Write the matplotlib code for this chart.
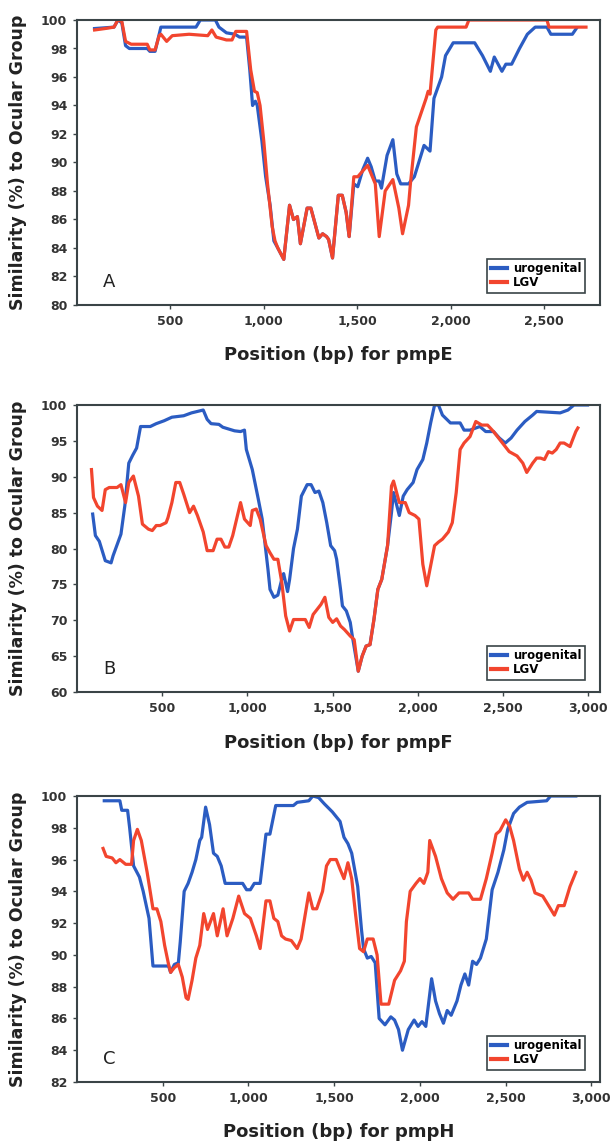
import matplotlib.pyplot as plt

# Panel A - pmpE
a_uro_x = [94, 198, 219, 240, 260, 280, 376, 390, 418, 440, 449, 637, 660, 741, 760, 800, 846, 870, 908, 925,
           940, 955, 965, 990, 1010, 1034, 1054, 1075, 1107, 1138, 1159, 1180, 1196, 1232, 1252, 1295, 1315, 1336, 1347, 1368,
           1399, 1420, 1441, 1457, 1482, 1503, 1530, 1556, 1575, 1597, 1618, 1630, 1660, 1691, 1712, 1733, 1775, 1806, 1858, 1890,
           1911, 1952, 1973, 2014, 2129, 2171, 2213, 2234, 2275, 2296, 2327, 2369, 2411, 2453, 2516, 2537, 2652, 2673]
a_uro_y = [99.4, 99.5, 100, 99.8, 98.2, 98.0, 98.0, 97.8, 97.8, 99.0, 99.5, 99.5, 100, 100, 99.5, 99.1, 99.0, 98.8, 98.8, 96.5,
           94.0, 94.3, 94.0, 91.5, 89.0, 87.0, 84.5, 84.0, 83.2, 87.0, 86.0, 86.2, 84.3, 86.8, 86.8, 84.7, 85.0, 84.8, 84.6, 83.3,
           87.7, 87.7, 86.5, 84.8, 88.5, 88.3, 89.5, 90.3, 89.7, 88.7, 88.7, 88.2, 90.5, 91.6, 89.2, 88.5, 88.5, 89.0, 91.2, 90.8,
           94.5, 96.0, 97.5, 98.4, 98.4, 97.5, 96.4, 97.4, 96.4, 96.9, 96.9, 98.0, 99.0, 99.5, 99.5, 99.0, 99.0, 99.4]
a_lgv_x = [94, 150, 198, 219, 240, 260, 290, 376, 390, 418, 440, 449, 480, 510, 600, 700, 722, 745, 800, 830,
           850, 908, 930, 950, 965, 980, 1000, 1020, 1045, 1060, 1075, 1107, 1138, 1159, 1180, 1196, 1232, 1252, 1295, 1315,
           1336, 1347, 1368, 1399, 1420, 1441, 1457, 1482, 1503, 1556, 1597, 1618, 1650, 1691, 1723, 1743, 1775, 1785, 1817, 1869,
           1880, 1890, 1921, 1931, 2083, 2098, 2516, 2527, 2725]
a_lgv_y = [99.3, 99.4, 99.5, 100, 99.9, 98.5, 98.3, 98.3, 97.9, 97.9, 98.9, 99.0, 98.5, 98.9, 99.0, 98.9, 99.3, 98.8, 98.6, 98.6,
           99.2, 99.2, 96.5, 95.0, 94.9, 94.0, 91.5, 88.5, 85.5, 84.5, 84.0, 83.2, 87.0, 86.0, 86.2, 84.3, 86.8, 86.8, 84.7, 85.0,
           84.8, 84.6, 83.3, 87.7, 87.7, 86.5, 84.8, 89.0, 89.0, 89.8, 88.5, 84.8, 88.0, 88.8, 86.8, 85.0, 87.0, 88.5, 92.5, 94.5,
           95.0, 94.8, 99.3, 99.5, 99.5, 100, 100, 99.5, 99.5]

# Panel B - pmpF
b_uro_x = [92, 108, 131, 166, 200, 212, 235, 258, 281, 304, 327, 350, 373, 430, 465, 511, 557, 626, 672, 741,
           764, 787, 833, 856, 925, 960, 983, 994, 1029, 1064, 1087, 1121, 1133, 1156, 1179, 1202, 1213, 1236, 1248, 1271,
           1294, 1317, 1351, 1374, 1397, 1420, 1443, 1466, 1489, 1512, 1524, 1547, 1558, 1581, 1604, 1616, 1651, 1674, 1697, 1720,
           1743, 1766, 1789, 1823, 1846, 1858, 1892, 1915, 1938, 1973, 1996, 2030, 2053, 2076, 2099, 2122, 2145, 2192, 2249, 2272,
           2307, 2365, 2399, 2445, 2479, 2514, 2548, 2583, 2629, 2675, 2698, 2836, 2882, 2917, 2997]
b_uro_y = [84.8, 81.8, 81.0, 78.3, 78.0, 79.0, 80.5, 82.0, 86.0, 91.9, 93.0, 94.0, 97.0, 97.0, 97.4, 97.8, 98.3, 98.5, 98.9, 99.3,
           98.0, 97.4, 97.3, 96.9, 96.4, 96.3, 96.5, 93.8, 91.0, 86.9, 84.1, 77.1, 74.3, 73.2, 73.5, 75.7, 76.5, 74.0, 75.7, 80.0,
           82.7, 87.3, 88.9, 88.9, 87.8, 88.0, 86.4, 83.6, 80.4, 79.7, 78.5, 74.3, 72.0, 71.3, 69.7, 67.8, 62.9, 65.0, 66.4, 66.6,
           70.1, 74.3, 75.7, 80.4, 85.0, 87.8, 84.6, 87.3, 88.2, 89.2, 91.0, 92.4, 94.7, 97.5, 100, 100, 98.6, 97.5, 97.5, 96.5,
           96.5, 97.0, 96.3, 96.3, 95.4, 94.7, 95.4, 96.5, 97.7, 98.6, 99.1, 98.9, 99.3, 100, 100]
b_lgv_x = [85, 97, 120, 147, 166, 189, 235, 258, 285, 304, 331, 361, 384, 419, 442, 465, 488, 523, 534, 557,
           580, 603, 626, 661, 684, 707, 741, 764, 799, 822, 845, 868, 891, 914, 937, 960, 983, 1017, 1029, 1052,
           1075, 1110, 1133, 1156, 1179, 1202, 1225, 1248, 1271, 1340, 1363, 1386, 1409, 1432, 1455, 1478, 1501, 1524, 1547, 1570,
           1604, 1627, 1651, 1674, 1697, 1720, 1743, 1766, 1789, 1823, 1846, 1858, 1892, 1927, 1950, 1984, 2007, 2030, 2053, 2076,
           2099, 2122, 2145, 2180, 2203, 2226, 2249, 2272, 2307, 2341, 2376, 2410, 2445, 2491, 2537, 2583, 2617, 2640, 2675, 2698,
           2721, 2744, 2767, 2790, 2813, 2836, 2859, 2894, 2905, 2928, 2940]
b_lgv_y = [91.0, 87.1, 85.9, 85.3, 88.2, 88.5, 88.5, 88.9, 86.4, 89.2, 90.1, 87.3, 83.4, 82.7, 82.5, 83.2, 83.2, 83.6, 84.3, 86.4,
           89.2, 89.2, 87.6, 85.0, 85.9, 84.6, 82.3, 79.7, 79.7, 81.3, 81.3, 80.2, 80.2, 81.8, 84.1, 86.4, 84.1, 83.2, 85.3, 85.5,
           84.1, 80.4, 79.4, 78.5, 78.5, 75.3, 70.6, 68.5, 70.1, 70.1, 69.0, 70.8, 71.5, 72.2, 73.2, 70.4, 69.7, 70.2, 69.2, 68.7,
           67.8, 67.3, 62.9, 65.0, 66.4, 66.6, 70.1, 74.3, 75.7, 80.4, 88.7, 89.4, 86.4, 86.4, 85.0, 84.6, 84.1, 77.8, 74.8, 77.6,
           80.4, 80.9, 81.3, 82.3, 83.6, 87.8, 93.8, 94.7, 95.6, 97.7, 97.2, 97.2, 96.3, 94.9, 93.5, 92.9, 91.9, 90.6, 91.9, 92.6,
           92.6, 92.4, 93.5, 93.3, 93.8, 94.7, 94.7, 94.2, 94.9, 96.3, 96.8]

# Panel C - pmpH
c_uro_x = [159, 250, 261, 295, 307, 330, 364, 386, 420, 443, 534, 546, 568, 591, 602, 625, 648, 671, 693, 716,
           727, 750, 773, 796, 818, 841, 864, 966, 989, 1011, 1034, 1068, 1102, 1125, 1159, 1262, 1284, 1352, 1375, 1409,
           1443, 1489, 1534, 1557, 1580, 1602, 1637, 1659, 1671, 1693, 1716, 1739, 1762, 1796, 1830, 1852, 1875, 1898, 1932, 1966,
           1989, 2012, 2034, 2068, 2091, 2114, 2137, 2159, 2182, 2216, 2239, 2262, 2284, 2307, 2330, 2353, 2387, 2421, 2455, 2489,
           2512, 2546, 2580, 2625, 2739, 2762, 2909]
c_uro_y = [99.7, 99.7, 99.1, 99.1, 98.0, 95.6, 94.9, 94.0, 92.3, 89.3, 89.3, 88.9, 89.4, 89.5, 90.8, 94.0, 94.5, 95.2, 96.0, 97.2,
           97.4, 99.3, 98.2, 96.4, 96.2, 95.6, 94.5, 94.5, 94.1, 94.1, 94.5, 94.5, 97.6, 97.6, 99.4, 99.4, 99.6, 99.7, 100, 99.9,
           99.5, 99.0, 98.4, 97.4, 97.0, 96.4, 94.3, 91.6, 90.4, 89.8, 89.9, 89.5, 86.0, 85.6, 86.1, 85.9, 85.3, 84.0, 85.3, 85.9,
           85.5, 85.8, 85.5, 88.5, 87.1, 86.3, 85.7, 86.5, 86.2, 87.1, 88.1, 88.8, 88.1, 89.6, 89.4, 89.8, 91.0, 94.1, 95.2, 96.6,
           97.9, 98.9, 99.3, 99.6, 99.7, 100, 100]
c_lgv_x = [152, 170, 205, 227, 250, 284, 318, 330, 352, 375, 409, 443, 466, 489, 511, 534, 546, 568, 591, 614,
           636, 648, 671, 693, 716, 739, 761, 796, 818, 852, 875, 909, 943, 977, 1011, 1046, 1068, 1102, 1125, 1148,
           1171, 1193, 1216, 1250, 1284, 1307, 1352, 1375, 1398, 1432, 1455, 1477, 1512, 1534, 1557, 1580, 1602, 1625, 1648, 1671,
           1693, 1727, 1750, 1773, 1818, 1852, 1887, 1909, 1921, 1943, 1977, 2000, 2023, 2046, 2057, 2091, 2125, 2159, 2193, 2228,
           2284, 2307, 2353, 2387, 2421, 2444, 2466, 2500, 2523, 2546, 2580, 2603, 2625, 2648, 2671, 2716, 2739, 2784, 2807, 2841,
           2875, 2909]
c_lgv_y = [96.7, 96.2, 96.1, 95.8, 96.0, 95.7, 95.7, 97.2, 97.9, 97.2, 95.2, 92.9, 92.9, 92.1, 90.6, 89.4, 88.9, 89.2, 89.4, 88.6,
           87.3, 87.2, 88.4, 89.8, 90.6, 92.6, 91.6, 92.6, 91.2, 92.9, 91.2, 92.3, 93.7, 92.6, 92.3, 91.2, 90.4, 93.4, 93.4, 92.3,
           92.1, 91.2, 91.0, 90.9, 90.4, 91.0, 93.9, 92.9, 92.9, 94.0, 95.6, 96.0, 96.0, 95.4, 94.8, 95.8, 94.8, 92.5, 90.4, 90.2,
           91.0, 91.0, 90.0, 86.9, 86.9, 88.4, 89.0, 89.6, 92.1, 94.0, 94.5, 94.8, 94.5, 95.2, 97.2, 96.2, 94.8, 93.9, 93.5, 93.9,
           93.9, 93.5, 93.5, 94.8, 96.4, 97.6, 97.8, 98.5, 98.1, 97.2, 95.4, 94.7, 95.2, 94.7, 93.9, 93.7, 93.3, 92.5, 93.1, 93.1,
           94.3, 95.2]

xticks_a = [500, 1000, 1500, 2000, 2500]
xlabels_a = ["500", "1,000", "1,500", "2,000", "2,500"]
xticks_bc = [500, 1000, 1500, 2000, 2500, 3000]
xlabels_bc = ["500", "1,000", "1,500", "2,000", "2,500", "3,000"]

uro_color = "#2b5cc2"
lgv_color = "#f2452e"
frame_color = "#3a4447"

fig = plt.figure(figsize=(6.11, 11.44), dpi=100)

panels = [
    # rect, letter, gene, uro, lgv, xlim, ylim, yticks, xticks, xlabels
    ([77 / 611, 1 - 305 / 1144, 523 / 611, 285 / 1144], "A", "pmpE",
     (a_uro_x, a_uro_y), (a_lgv_x, a_lgv_y), (0, 2800), (80, 100), range(80, 101, 2), xticks_a, xlabels_a),
    ([77 / 611, 1 - 692 / 1144, 523 / 611, 287 / 1144], "B", "pmpF",
     (b_uro_x, b_uro_y), (b_lgv_x, b_lgv_y), (0, 3070), (60, 100), range(60, 101, 5), xticks_bc, xlabels_bc),
    ([77 / 611, 1 - 1082 / 1144, 523 / 611, 286 / 1144], "C", "pmpH",
     (c_uro_x, c_uro_y), (c_lgv_x, c_lgv_y), (0, 3050), (82, 100), range(82, 101, 2), xticks_bc, xlabels_bc),
]

for rect, letter, gene, uro, lgv, xlim, ylim, yticks, xt, xl in panels:
    ax = fig.add_axes(rect)
    ax.plot(uro[0], uro[1], color=uro_color, lw=2.3, label="urogenital")
    ax.plot(lgv[0], lgv[1], color=lgv_color, lw=2.3, label="LGV")
    ax.set_xlim(*xlim)
    ax.set_ylim(*ylim)
    ax.set_yticks(list(yticks))
    ax.set_xticks(xt)
    ax.set_xticklabels(xl)
    for s in ax.spines.values():
        s.set_color(frame_color)
        s.set_linewidth(1.5)
    ax.tick_params(direction="out", length=3, width=1, color=frame_color, pad=4,
                   labelsize=9, labelcolor="#333333")
    for t in ax.get_xticklabels() + ax.get_yticklabels():
        t.set_fontweight("bold")
    ax.set_xlabel("Position (bp) for " + gene, fontsize=13, fontweight="bold", color="#222222")
    ax.xaxis.set_label_coords(0.5, -0.145)
    ax.xaxis.label.set_va("top")
    ax.set_ylabel("Similarity (%) to Ocular Group", fontsize=12.5, fontweight="bold", color="#222222")
    ax.yaxis.set_label_coords(-0.095, 0.5)
    ax.text(0.05, 0.08, letter, transform=ax.transAxes, fontsize=13, va="center", ha="left", color="#222222")
    leg = ax.legend(loc="lower right", bbox_to_anchor=(0.972, 0.042), borderaxespad=0, fancybox=False,
                    edgecolor=frame_color, framealpha=1, handlelength=1.4, handletextpad=0.5,
                    labelspacing=0.1, borderpad=0.3, prop={"weight": "bold", "size": 8.5})
    leg.get_frame().set_linewidth(1.2)
    for line in leg.get_lines():
        line.set_linewidth(3)

plt.savefig("out.png", dpi=100)
